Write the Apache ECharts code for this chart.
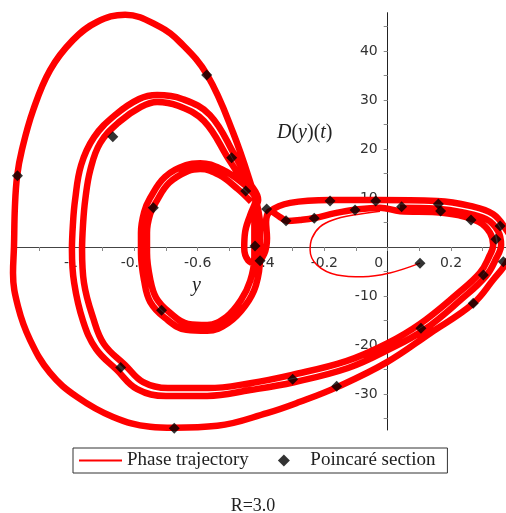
<!DOCTYPE html>
<html>
<head>
<meta charset="utf-8">
<script src="https://cdn.jsdelivr.net/npm/echarts@6/dist/echarts.min.js"></script>
<style>
  html, body { margin: 0; padding: 0; background: #fff; }
  #chart { width: 506px; height: 513px; }
</style>
</head>
<body>
<div id="chart"></div>
<script>
// tick positions and labels
const xTickValues = [-1.1, -1.0, -0.9, -0.8, -0.7, -0.6, -0.5, -0.4, -0.3, -0.2, -0.1, 0, 0.1, 0.2, 0.3];
const xLabelValues = [-1, -0.8, -0.6, -0.4, -0.2, 0, 0.2];
const yTickValues = [-35, -30, -25, -20, -15, -10, -5, 5, 10, 15, 20, 25, 30, 35, 40, 45];
const yLabelValues = [-30, -20, -10, 10, 20, 30, 40];

// start of the trajectory (thin spiral near the origin)
const transient = [
  [0.102, -3.3], [0.007, -5.3], [-0.078, -6.1], [-0.160, -5.7], [-0.223, -3.7],
  [-0.245, -0.6], [-0.239, 1.8], [-0.214, 4.1], [-0.173, 5.5], [-0.109, 6.5], [-0.024, 7.3]
];

// middle loop, outer strand
const loopB1 = [
  [0.039, 8.0], [0.156, 7.8], [0.234, 7.1], [0.311, 5.7], [0.348, 3.3], [0.358, 0.4],
  [0.342, -2.4], [0.311, -5.9], [0.234, -10.6], [0.115, -16.9], [0.001, -21.0],
  [-0.125, -24.7], [-0.296, -27.6], [-0.434, -29.2], [-0.570, -30.4], [-0.700, -30.4],
  [-0.791, -29.0], [-0.855, -25.1], [-0.921, -20.8], [-0.962, -15.1], [-0.990, -7.3],
  [-0.997, -0.6], [-0.994, 4.5], [-0.987, 9.6], [-0.968, 16.7], [-0.927, 22.4],
  [-0.861, 26.9], [-0.785, 30.2], [-0.728, 31.0], [-0.649, 30.2], [-0.561, 26.9],
  [-0.482, 18.6], [-0.438, 13.3], [-0.409, 9.6]
];

// middle loop, inner strand
const loopB2 = [
  [0.039, 7.3], [0.153, 7.1], [0.222, 6.5], [0.288, 5.1], [0.323, 2.9], [0.333, 0.4],
  [0.320, -2.0], [0.291, -5.3], [0.219, -9.6], [0.102, -15.7], [-0.005, -19.8],
  [-0.131, -23.3], [-0.302, -26.1], [-0.434, -27.8], [-0.567, -28.8], [-0.694, -28.8],
  [-0.772, -27.6], [-0.829, -24.1], [-0.896, -19.8], [-0.930, -14.5], [-0.959, -7.3],
  [-0.965, -0.6], [-0.962, 4.5], [-0.955, 9.6], [-0.939, 15.7], [-0.908, 21.2],
  [-0.848, 25.5], [-0.779, 28.6], [-0.728, 29.6], [-0.662, 28.8], [-0.580, 25.7],
  [-0.501, 17.8], [-0.450, 12.7], [-0.416, 9.4]
];

// big outer loop
const loopA = [
  [-0.308, 9.0], [-0.182, 9.6], [-0.034, 9.6], [0.156, 9.4], [0.260, 8.4], [0.333, 6.7],
  [0.374, 3.5], [0.399, 0.2], [0.374, -3.3], [0.333, -6.7], [0.269, -11.6],
  [0.134, -17.6], [-0.002, -23.5], [-0.160, -28.6], [-0.277, -31.6], [-0.381, -33.9],
  [-0.538, -36.5], [-0.675, -36.9], [-0.750, -36.7], [-0.867, -34.7], [-0.981, -30.6],
  [-1.066, -25.7], [-1.129, -19.0], [-1.167, -12.2], [-1.183, -5.3], [-1.180, 0],
  [-1.177, 8.2], [-1.170, 14.5], [-1.155, 19.8], [-1.119, 28.0], [-1.066, 36.1],
  [-0.994, 42.2], [-0.918, 45.9], [-0.829, 47.4], [-0.719, 44.9],
  [-0.656, 41.8], [-0.570, 35.1], [-0.488, 23.3], [-0.421, 10.6], [-0.409, 7.6]
];

// inner loop, two strands
const loopC1 = [
  [-0.403, 4.5], [-0.403, -2.0], [-0.416, -7.8], [-0.450, -12.0], [-0.504, -15.5],
  [-0.570, -17.1], [-0.636, -16.9], [-0.703, -14.5], [-0.750, -11.2], [-0.769, -6.9],
  [-0.779, -1.2], [-0.779, 2.9], [-0.769, 7.1], [-0.750, 10.0], [-0.703, 14.3],
  [-0.636, 16.7], [-0.592, 17.1], [-0.526, 15.9], [-0.460, 13.1], [-0.416, 10.0]
];
const loopC2 = [
  [-0.421, 4.5], [-0.421, -2.0], [-0.434, -6.9], [-0.463, -10.8], [-0.510, -14.3],
  [-0.570, -15.9], [-0.630, -15.7], [-0.690, -13.3], [-0.731, -10.4], [-0.750, -6.5],
  [-0.760, -1.2], [-0.760, 2.9], [-0.750, 6.7], [-0.731, 9.2], [-0.690, 13.1],
  [-0.630, 15.5], [-0.592, 15.9], [-0.532, 14.7], [-0.473, 11.8], [-0.431, 9.2]
];

// small loop at the knot and the lower top strand
const knotLoop = [
  [-0.434, 6.5], [-0.450, 3.1], [-0.453, -0.2], [-0.441, -2.7], [-0.416, -3.3],
  [-0.390, -1.4], [-0.381, 1.8], [-0.384, 5.1], [-0.371, 7.3]
];
const lowerStrand = [
  [-0.340, 6.1], [-0.317, 5.3], [-0.277, 5.5], [-0.232, 5.9], [-0.166, 6.9],
  [-0.103, 7.6], [-0.024, 8.0]
];

// Poincaré section points
const poincare = [
  [-1.169, 14.55], [-0.5715, 35.1], [-0.868, 22.5], [-0.4926, 18.2], [-0.4484, 11.4],
  [-0.740, 8.0], [-0.382, 7.76], [-0.321, 5.37], [-0.232, 5.86], [-0.182, 9.39],
  [-0.103, 7.55], [-0.038, 9.39], [0.044, 8.2], [0.160, 8.78], [0.167, 7.35],
  [0.263, 5.5], [0.355, 4.29], [0.342, 1.57], [-0.419, 0.2], [-0.403, -2.8],
  [0.102, -3.3], [0.365, -3.0], [0.302, -5.7], [0.270, -11.5], [0.105, -16.6],
  [-0.714, -12.9], [-0.843, -24.6], [-0.300, -27.0], [-0.161, -28.4], [-0.674, -37.0]
];

const trajectory = [].concat(loopB1, knotLoop, loopA, loopC1, knotLoop, lowerStrand, loopB2, loopC2);

const chart = echarts.init(document.getElementById('chart'));

const tickFont = { fontFamily: 'DejaVu Sans', fontSize: 14, color: '#333' };

// axes cross at the origin: shift them from the grid edges to the zero lines
const gridBox = { left: 12.7, top: 12.7, width: 493.3, height: 417.3 };
const xZeroOffset = -183;   // bottom edge (y=430) up to y=247
const yZeroOffset = -375;   // left edge (x=12.7) right to x=387.7

const option = {
  animation: false,
  title: {
    text: 'R=3.0',
    left: 'center',
    top: 492,
    textStyle: { fontFamily: 'Liberation Serif', fontSize: 18, fontWeight: 'normal', color: '#222' }
  },
  legend: {
    data: [
      { name: 'Phase trajectory', icon: 'path://M0,0H43V2H0Z' },
      { name: 'Poincaré section', icon: 'path://M5,0L10,5L5,10L0,5Z' }
    ],
    left: 73,
    top: 448,
    padding: [3, 12, 3, 6],
    borderColor: '#333',
    borderWidth: 1,
    itemWidth: 43,
    itemHeight: 12,
    itemGap: 29,
    symbolKeepAspect: true,
    textStyle: { fontFamily: 'Liberation Serif', fontSize: 19, color: '#222' }
  },
  grid: gridBox,
  xAxis: {
    type: 'value',
    position: 'bottom',
    offset: xZeroOffset,
    min: -1.184,
    max: 0.3735,
    axisLine: { onZero: false, lineStyle: { color: '#444', width: 1.2 } },
    axisTick: { customValues: xTickValues, length: 4, lineStyle: { color: '#888' } },
    axisLabel: {
      customValues: xLabelValues,
      margin: 9,
      ...tickFont,
      formatter: function (v) { return v === 0 ? '{z|0}' : String(v); },
      rich: { z: { padding: [0, 18, 0, 0], ...tickFont } }
    },
    splitLine: { show: false }
  },
  yAxis: {
    type: 'value',
    position: 'left',
    offset: yZeroOffset,
    min: -37.35,
    max: 47.8,
    axisLine: { onZero: false, lineStyle: { color: '#222', width: 1 } },
    axisTick: { customValues: yTickValues, length: 4, lineStyle: { color: '#888' } },
    axisLabel: { customValues: yLabelValues, margin: 10, ...tickFont },
    splitLine: { show: false }
  },
  graphic: [
    {
      type: 'text', left: 277, top: 123,
      style: {
        text: '{i|D}({i|y})({i|t})',
        fontFamily: 'Liberation Serif', fontSize: 20, fill: '#222',
        rich: { i: { fontStyle: 'italic', fontFamily: 'Liberation Serif', fontSize: 20, color: '#222' } }
      }
    },
    {
      type: 'text', left: 192, top: 276,
      style: { text: 'y', fontFamily: 'Liberation Serif', fontStyle: 'italic', fontSize: 20, fill: '#222' }
    }
  ],
  series: [
    {
      name: 'Phase trajectory',
      type: 'line',
      data: trajectory,
      symbol: 'none',
      smooth: 0.4,
      lineStyle: { color: '#ff0000', width: 6.5 },
      itemStyle: { color: '#ff0000' },
      z: 2
    },
    {
      name: 'Phase trajectory',
      type: 'line',
      data: transient,
      symbol: 'none',
      smooth: 0.4,
      lineStyle: { color: '#ff0000', width: 1.5 },
      itemStyle: { color: '#ff0000' },
      z: 2
    },
    {
      name: 'Poincaré section',
      type: 'scatter',
      data: poincare,
      symbol: 'diamond',
      symbolSize: 11,
      itemStyle: { color: '#000' },
      z: 3
    }
  ]
};

chart.setOption(option);
</script>
</body>
</html>
